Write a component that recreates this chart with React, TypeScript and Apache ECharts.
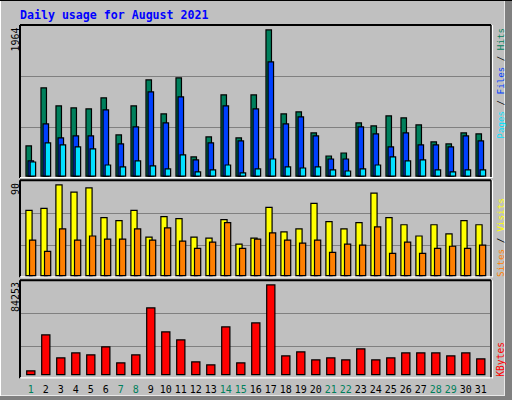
import React, { useEffect, useRef } from "react";
import * as echarts from "echarts";

const TITLE = "Daily usage for August 2021";
const days = ["1","2","3","4","5","6","7","8","9","10","11","12","13","14","15","16","17","18","19","20","21","22","23","24","25","26","27","28","29","30","31"];
const weekendDays = ["1","7","8","14","15","21","22","28","29"];

const hits = [418,1191,951,924,911,1058,564,951,1297,844,1324,271,538,1098,524,1098,1964,844,871,591,284,324,724,684,818,791,698,471,444,591,578];
const files = [218,711,524,551,551,898,444,671,1138,724,1071,231,458,951,484,911,1537,711,804,551,244,244,671,578,404,591,431,431,404,551,484];
const pages = [204,458,431,404,378,164,138,218,151,111,298,71,98,164,58,111,244,138,124,138,98,84,111,164,271,218,231,98,71,98,98];

const visits = [65,67,90,83,87,58,55,65,39,59,57,39,38,56,32,38,68,44,47,72,54,47,53,82,58,51,40,51,42,55,51];
const sites = [36,25,47,36,40,37,37,47,36,48,35,28,34,53,28,37,43,36,33,36,24,32,31,49,23,34,23,28,30,28,31];

const kbytes = [4629,37960,16666,21295,19443,26850,12036,19443,62958,40738,33331,12962,10184,45367,12036,49070,84253,18517,22221,14814,16666,14814,24998,14814,16666,21295,21295,21295,18517,21295,15739];

const C_HITS = "#00805C";
const C_FILES = "#0040FF";
const C_PAGES = "#00E0FF";
const C_VISITS = "#FFFF00";
const C_SITES = "#FF8000";
const C_KB = "#FF0000";
const MONO = "'DejaVu Sans Mono', monospace";

const panels = [
  { x: 20, y: 25, w: 471, h: 153 },
  { x: 20, y: 180.3, w: 471, h: 97 },
  { x: 20, y: 280.3, w: 471, h: 98 },
];

export default function App() {
  const ref = useRef<HTMLDivElement>(null);
  useEffect(() => {
    if (!ref.current) return;
    const chart = echarts.init(ref.current, null, { renderer: "svg" });

    const gridL = 23.3;
    const gridW = 465;
    const grids = [
      { left: gridL, width: gridW, top: 25, height: 151.7 },
      { left: gridL, width: gridW, top: 180.3, height: 96 },
      { left: gridL, width: gridW, top: 280.3, height: 95 },
    ];
    const maxFactors = [1.029, 1.0435, 1.044];

    const xAxes = grids.map((_, i) => ({
      type: "category",
      gridIndex: i,
      data: days,
      boundaryGap: true,
      axisLine: { show: false },
      axisTick: { show: false },
      axisLabel: i === 2
        ? {
            show: true,
            margin: 9,
            fontFamily: MONO,
            fontSize: 10,
            interval: 0,
            color: (v: string) => (weekendDays.includes(v) ? C_HITS : "#000000"),
          }
        : { show: false },
      splitLine: { show: false },
    }));
    const yAxes = grids.map((_, i) => ({
      type: "value",
      gridIndex: i,
      min: 0,
      max: (v: { max: number }) => v.max * maxFactors[i],
      show: false,
      splitLine: { show: false },
    }));

    const barBase = { type: "bar", itemStyle: { borderColor: "#000", borderWidth: 1.2 } };

    const series = [
      { ...barBase, name: "Hits", data: hits, xAxisIndex: 0, yAxisIndex: 0, barWidth: 6.7, barGap: "-69%", itemStyle: { ...barBase.itemStyle, color: C_HITS } },
      { ...barBase, name: "Files", data: files, xAxisIndex: 0, yAxisIndex: 0, barWidth: 6.7, barGap: "-69%", itemStyle: { ...barBase.itemStyle, color: C_FILES } },
      { ...barBase, name: "Pages", data: pages, xAxisIndex: 0, yAxisIndex: 0, barWidth: 6.7, barGap: "-69%", itemStyle: { ...barBase.itemStyle, color: C_PAGES } },
      { ...barBase, name: "Visits", data: visits, xAxisIndex: 1, yAxisIndex: 1, barWidth: 7.4, barGap: "-51%", itemStyle: { ...barBase.itemStyle, color: C_VISITS } },
      { ...barBase, name: "Sites", data: sites, xAxisIndex: 1, yAxisIndex: 1, barWidth: 7.4, barGap: "-51%", itemStyle: { ...barBase.itemStyle, color: C_SITES } },
      { ...barBase, name: "KBytes", data: kbytes, xAxisIndex: 2, yAxisIndex: 2, barWidth: 9.4, itemStyle: { ...barBase.itemStyle, color: C_KB } },
    ];

    const elements: any[] = [];
    // outer bevel
    elements.push({ type: "rect", z: -20, shape: { x: 505, y: 0, width: 7, height: 400 }, style: { fill: "#808080" } });
    elements.push({ type: "rect", z: -20, shape: { x: 0, y: 396, width: 512, height: 4 }, style: { fill: "#808080" } });
    elements.push({ type: "line", z: -19, shape: { x1: 0, y1: 0.5, x2: 512, y2: 0.5 }, style: { stroke: "#000", lineWidth: 1 } });
    elements.push({ type: "line", z: -19, shape: { x1: 0.5, y1: 1, x2: 0.5, y2: 396 }, style: { stroke: "#FFFFFF", lineWidth: 1 } });
    elements.push({ type: "line", z: -19, shape: { x1: 504.5, y1: 1, x2: 504.5, y2: 395.5 }, style: { stroke: "#E8E8E8", lineWidth: 1 } });
    elements.push({ type: "line", z: -19, shape: { x1: 1, y1: 395.5, x2: 505, y2: 395.5 }, style: { stroke: "#E8E8E8", lineWidth: 1 } });

    panels.forEach((p) => {
      // gridlines at thirds
      [1, 2].forEach((k) => {
        const yy = Math.round(p.y + (p.h * k) / 3) + 0.5;
        elements.push({ type: "line", z: -5, shape: { x1: p.x + 1, y1: yy, x2: p.x + p.w - 1, y2: yy }, style: { stroke: "#808080", lineWidth: 1.2 } });
      });
      // black top/left/right
      elements.push({ type: "line", z: -4, shape: { x1: p.x, y1: p.y, x2: p.x + p.w, y2: p.y }, style: { stroke: "#000", lineWidth: 2 } });
      elements.push({ type: "line", z: -4, shape: { x1: p.x, y1: p.y, x2: p.x, y2: p.y + p.h }, style: { stroke: "#000", lineWidth: 2 } });
      elements.push({ type: "line", z: -4, shape: { x1: p.x + p.w, y1: p.y, x2: p.x + p.w, y2: p.y + p.h }, style: { stroke: "#000", lineWidth: 1.5 } });
      // white bottom/right
      elements.push({ type: "line", z: -4, shape: { x1: p.x, y1: p.y + p.h - 0.5, x2: p.x + p.w + 1.5, y2: p.y + p.h - 0.5 }, style: { stroke: "#FFFFFF", lineWidth: 1.2 } });
      elements.push({ type: "line", z: -4, shape: { x1: p.x + p.w + 1.5, y1: p.y, x2: p.x + p.w + 1.5, y2: p.y + p.h }, style: { stroke: "#FFFFFF", lineWidth: 1.2 } });
    });

    // title
    elements.push({
      type: "text", z: 10, x: 20, y: 15,
      style: { text: TITLE, fill: "#0000FF", font: `bold 11.6px ${MONO}`, align: "left", verticalAlign: "middle" },
    });

    // left max labels (rotated)
    const maxLabels = [
      { text: String(Math.max(...hits)), y: 27.5 },
      { text: String(Math.max(...visits)), y: 183 },
      { text: String(Math.max(...kbytes)), y: 282 },
    ];
    maxLabels.forEach((m) => {
      elements.push({
        type: "text", z: 10, x: 15, y: m.y, rotation: Math.PI / 2,
        style: { text: m.text, fill: "#000", font: `10px ${MONO}`, align: "right", verticalAlign: "middle" },
      });
    });

    // right legends (rotated)
    elements.push({
      type: "text", z: 10, x: 500.5, y: 28, rotation: Math.PI / 2,
      style: {
        text: "{p|Pages}{s| / }{f|Files}{s| / }{h|Hits}",
        align: "right", verticalAlign: "middle", font: `9.2px ${MONO}`,
        rich: {
          p: { fill: C_PAGES, font: `9.2px ${MONO}` },
          f: { fill: C_FILES, font: `9.2px ${MONO}` },
          h: { fill: C_HITS, font: `9.2px ${MONO}` },
          s: { fill: "#000", font: `9.2px ${MONO}` },
        },
      },
    });
    elements.push({
      type: "text", z: 10, x: 500.5, y: 277, rotation: Math.PI / 2,
      style: {
        text: "{a|Sites}{s| / }{b|Visits}",
        align: "left", verticalAlign: "middle", font: `9.4px ${MONO}`,
        rich: {
          a: { fill: C_SITES, font: `9.4px ${MONO}` },
          b: { fill: C_VISITS, font: `9.4px ${MONO}` },
          s: { fill: "#000", font: `9.4px ${MONO}` },
        },
      },
    });
    elements.push({
      type: "text", z: 10, x: 500.5, y: 376.7, rotation: Math.PI / 2,
      style: { text: "KBytes", fill: C_KB, font: `9.6px ${MONO}`, align: "left", verticalAlign: "middle" },
    });

    chart.setOption({
      animation: false,
      backgroundColor: "#C0C0C0",
      grid: grids,
      xAxis: xAxes,
      yAxis: yAxes,
      series,
      graphic: { elements },
    } as any);

    return () => chart.dispose();
  }, []);

  return <div ref={ref} style={{ position: "fixed", left: 0, top: 0, width: 512, height: 400 }} />;
}
